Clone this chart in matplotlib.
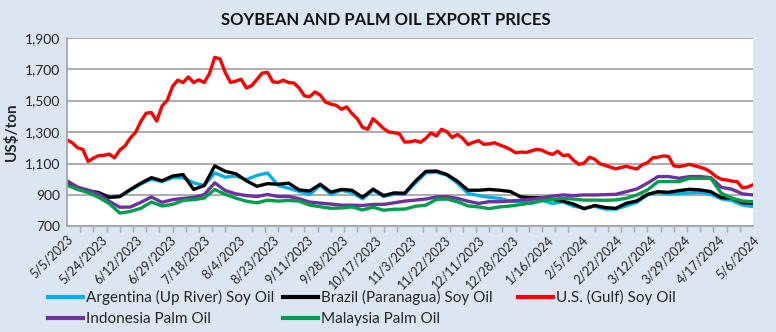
import numpy as np
import matplotlib
matplotlib.use("Agg")
import matplotlib.pyplot as plt
from matplotlib.lines import Line2D

plt.rcParams['font.family'] = ['Lato', 'DejaVu Sans']

# category axis: business days 5/5/2023 .. 5/6/2024 (261 points), labels every 13th day
tick_labels = ['5/5/2023', '5/24/2023', '6/12/2023', '6/29/2023', '7/18/2023', '8/4/2023',
               '8/23/2023', '9/11/2023', '9/28/2023', '10/17/2023', '11/3/2023', '11/22/2023',
               '12/11/2023', '12/28/2023', '1/16/2024', '2/5/2024', '2/22/2024', '3/12/2024',
               '3/29/2024', '4/17/2024', '5/6/2024']

# U.S. (Gulf) soy oil, read every 2nd day
us_gulf = [1250, 1232, 1200, 1190, 1113, 1134, 1150, 1152, 1160, 1136,
           1185, 1212, 1262, 1298, 1368, 1420, 1424, 1370, 1465, 1502,
           1590, 1630, 1615, 1650, 1615, 1632, 1615, 1672, 1775, 1765,
           1678, 1615, 1624, 1636, 1580, 1595, 1635, 1675, 1680, 1620,
           1615, 1630, 1615, 1612, 1580, 1530, 1525, 1555, 1535, 1490,
           1478, 1470, 1445, 1460, 1418, 1385, 1330, 1318, 1385, 1355,
           1322, 1300, 1296, 1289, 1236, 1238, 1245, 1235, 1260, 1295,
           1275, 1318, 1302, 1265, 1285, 1260, 1220, 1235, 1245, 1222,
           1225, 1232, 1218, 1205, 1190, 1168, 1173, 1170, 1180, 1190,
           1185, 1168, 1158, 1178, 1150, 1155, 1120, 1095, 1102, 1140,
           1128, 1098, 1088, 1077, 1066, 1075, 1082, 1073, 1065, 1092,
           1105, 1136, 1140, 1148, 1145, 1085, 1080, 1087, 1095, 1085,
           1076, 1065, 1045, 1017, 1000, 995, 988, 985, 945, 950, 965]

# the other four, read every 4th day
argentina = [975, 948, 930, 913, 885, 890, 930, 970, 1000, 985,
             1010, 1010, 977, 960, 1040, 1013, 1020, 998, 1024, 1040,
             961, 943, 922, 904, 961, 904, 930, 915, 875, 930,
             890, 905, 905, 975, 1040, 1045, 1025, 975, 910, 896,
             885, 878, 861, 857, 846, 867, 846, 857, 828, 817,
             828, 810, 810, 831, 853, 900, 917, 906, 911, 913,
             917, 904, 875, 864, 836, 826]
brazil = [968, 940, 925, 915, 885, 890, 935, 975, 1010, 990,
          1020, 1030, 935, 960, 1085, 1050, 1035, 990, 955, 972,
          968, 975, 932, 925, 968, 918, 935, 930, 885, 937,
          896, 913, 911, 987, 1050, 1052, 1030, 987, 930, 930,
          935, 930, 922, 887, 882, 883, 872, 860, 842, 812,
          833, 820, 815, 847, 862, 904, 921, 917, 928, 936,
          932, 921, 883, 879, 851, 847]
indonesia = [990, 950, 930, 906, 860, 822, 823, 853, 887, 853,
             870, 878, 885, 902, 977, 928, 907, 896, 890, 903,
             890, 890, 876, 855, 848, 842, 835, 835, 833, 840,
             840, 850, 861, 867, 874, 887, 889, 878, 860, 846,
             857, 857, 861, 867, 872, 883, 893, 900, 896, 900,
             900, 902, 904, 921, 938, 975, 1017, 1017, 1006, 1017,
             1017, 1010, 949, 936, 907, 900]
malaysia = [962, 935, 915, 885, 845, 785, 795, 815, 855, 830,
            840, 865, 870, 880, 935, 904, 880, 860, 850, 867,
            861, 865, 861, 835, 825, 815, 817, 824, 805, 822,
            803, 809, 810, 828, 835, 872, 874, 857, 830, 824,
            813, 824, 830, 839, 850, 863, 872, 878, 874, 867,
            867, 866, 868, 879, 900, 932, 985, 985, 985, 1006,
            1006, 1006, 911, 879, 862, 857]

x2 = np.arange(0, 261, 2)
x4 = np.arange(0, 261, 4)

series = [
    ('Argentina (Up River) Soy Oil', x4, argentina, '#00B0F0'),
    ('Brazil (Paranagua) Soy Oil', x4, brazil, '#000000'),
    ('U.S. (Gulf) Soy Oil', x2, us_gulf, '#FF0000'),
    ('Indonesia Palm Oil', x4, indonesia, '#7030A0'),
    ('Malaysia Palm Oil', x4, malaysia, '#00A04A'),
]

bg = '#DCE6F2'
txt = '#262626'
fig = plt.figure(figsize=(7.76, 3.32), dpi=100, facecolor=bg)
ax = fig.add_axes([67/776, 1-226.4/332, 686/776, (226.4-37.7)/332])
ax.set_facecolor('white')

for name, xs, ys, c in series:
    ax.plot(xs, ys, color=c, lw=2.4, label=name, solid_joinstyle='round')

ax.set_xlim(0, 260)
ax.set_ylim(700, 1900)
ax.set_yticks(np.arange(700, 1901, 200))
ax.set_yticklabels([f'{v:,}' for v in range(700, 1901, 200)], fontsize=10, color=txt)
ax.grid(axis='y', color='#A6A6A6', lw=1.3)
ax.set_axisbelow(True)
ax.tick_params(axis='y', length=0, pad=5)

ax.set_xticks(np.arange(0, 261, 13))
ax.set_xticklabels(tick_labels, rotation=45, ha='right', rotation_mode='anchor',
                   fontsize=9, color=txt)
ax.set_xticks(np.arange(0, 261, 5), minor=True)
ax.tick_params(axis='x', which='major', length=0, pad=5)
ax.tick_params(axis='x', which='minor', length=4, width=1, color='#A6A6A6')

for s in ['top', 'right']:
    ax.spines[s].set_visible(False)
for s in ['left', 'bottom']:
    ax.spines[s].set_color('#A6A6A6')
    ax.spines[s].set_linewidth(1.3)

ax.set_ylabel('US$/ton', fontsize=11, fontweight='bold', color=txt, labelpad=4)
fig.text(0.497, 0.94, 'SOYBEAN AND PALM OIL EXPORT PRICES', ha='center', va='center',
         fontsize=12, fontweight='bold', color='#111111')

# legend: three columns at fixed positions, rows filled left to right
cols = [[0, 3], [1, 4], [2]]
col_x = [48/776, 283/776, 518/776]
for idx, cx in zip(cols, col_x):
    handles = [Line2D([], [], color=series[k][3], lw=3) for k in idx]
    labels = [series[k][0] for k in idx]
    fig.legend(handles, labels, loc='upper left', bbox_to_anchor=(cx, 1-290/332),
               frameon=False, fontsize=11, handlelength=2.3, handletextpad=0.2,
               labelspacing=0.45, borderaxespad=0, borderpad=0, labelcolor=txt)

fig.savefig('out.png', dpi=100, facecolor=bg)
